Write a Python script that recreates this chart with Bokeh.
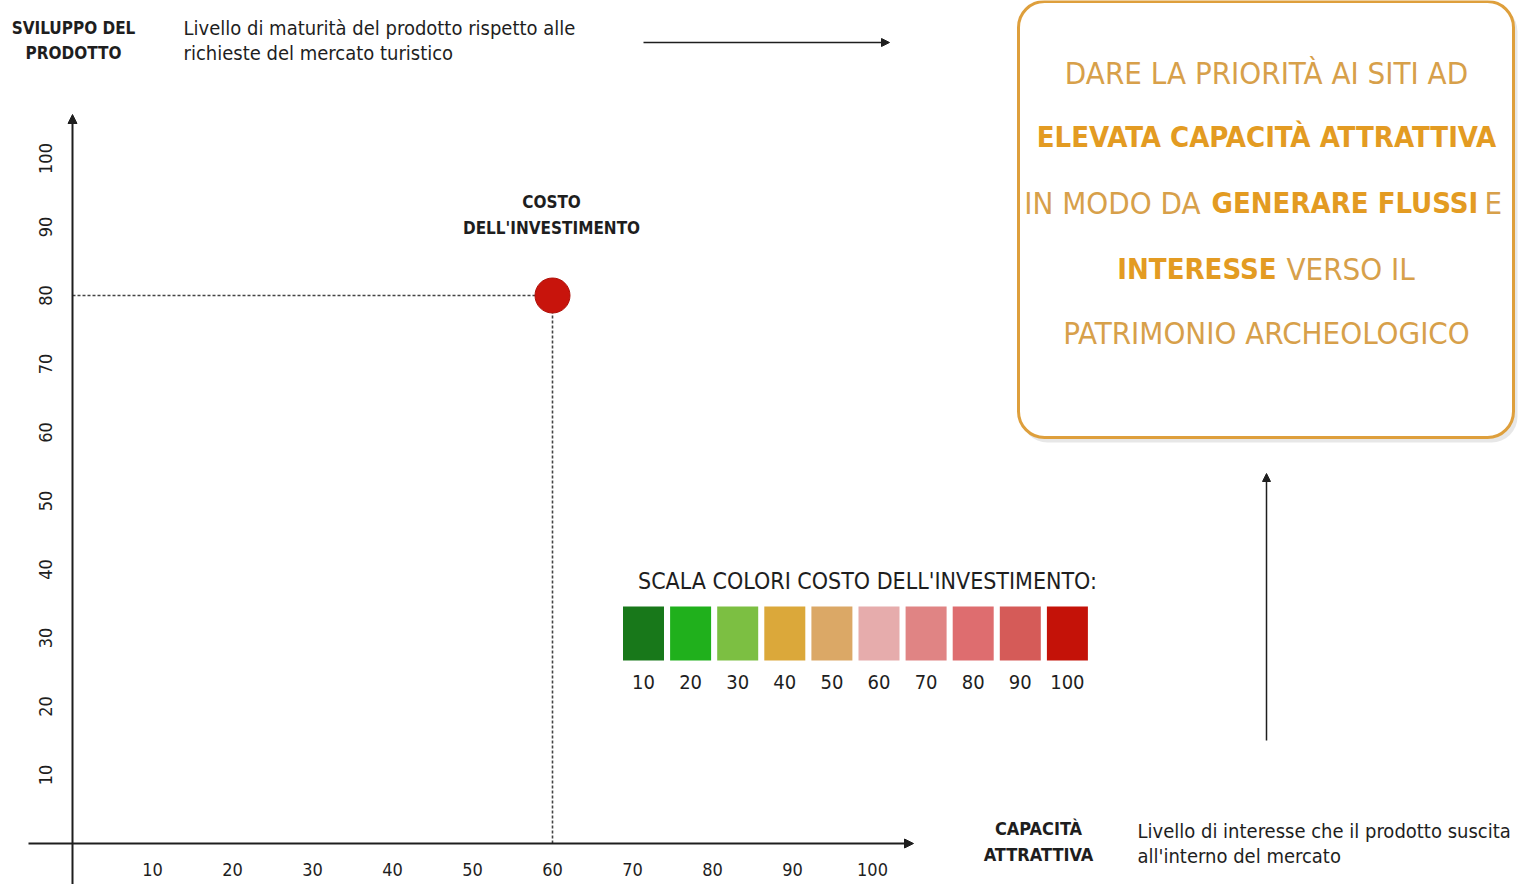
from bokeh.plotting import figure
from bokeh.models import Arrow, NormalHead, BoxAnnotation, Label, ColumnDataSource
from bokeh.core.properties import value
from bokeh.embed import file_html
from bokeh.resources import INLINE

# ---------------- data ----------------
x_ticks = [10, 20, 30, 40, 50, 60, 70, 80, 90, 100]
y_ticks = [10, 20, 30, 40, 50, 60, 70, 80, 90, 100]
point_x = [60]          # capacità attrattiva
point_y = [80]          # sviluppo del prodotto
point_color = ["#C8140C"]   # costo dell'investimento = 100
point_label = ["COSTO", "DELL'INVESTIMENTO"]
scale_values = [10, 20, 30, 40, 50, 60, 70, 80, 90, 100]
scale_colors = ["#18781A", "#20B01C", "#7CBF42", "#DBA83A", "#DBA866",
                "#E6ACAC", "#E08484", "#DE6D6F", "#D55B58", "#C41208"]
y_title = ["SVILUPPO DEL", "PRODOTTO"]
y_desc = ["Livello di maturità del prodotto rispetto alle", "richieste del mercato turistico"]
x_title = ["CAPACITÀ", "ATTRATTIVA"]
x_desc = ["Livello di interesse che il prodotto suscita", "all'interno del mercato"]
scale_title = "SCALA COLORI COSTO DELL'INVESTIMENTO:"

# ---------------- layout ----------------
W, H = 1520, 884
X0, SX = 72.0, 8.0     # page px of x=0, px per unit
Y0, SY = 843.0, 6.85   # page px of y=0, px per unit


def ax(px):
    return (px - X0) / SX


def ay(py):
    return (Y0 - py) / SY


FONT = "'DejaVu Sans Condensed', 'Liberation Sans Narrow', sans-serif"
DARK = "#1E1E1E"
BOX_REG = "#D7A04A"
BOX_BOLD = "#E39B22"

p = figure(width=W, height=H, x_range=(ax(0), ax(W)), y_range=(ay(H), ay(0)),
           output_backend="svg", toolbar_location=None, x_axis_type=None, y_axis_type=None,
           min_border=0, background_fill_color="white", border_fill_color="white")
p.outline_line_color = None


def lab(text, px, py, size, bold=False, color=DARK, align="center"):
    p.add_layout(Label(x=ax(px), y=ay(py), text=text, text_align=align, text_baseline="middle",
                       text_font=FONT, text_font_size=f"{size}px",
                       text_font_style="bold" if bold else "normal", text_color=color))


# ---- axes (arrows) ----
p.add_layout(Arrow(end=NormalHead(size=9, fill_color=DARK, line_color=DARK),
                   x_start=0, y_start=ay(884), x_end=0, y_end=ay(114),
                   line_width=2, line_color=DARK))
p.add_layout(Arrow(end=NormalHead(size=9, fill_color=DARK, line_color=DARK),
                   x_start=ax(28), y_start=0, x_end=ax(913), y_end=0,
                   line_width=2, line_color=DARK))

# tick labels
p.text(x=x_ticks, y=[ay(869)] * len(x_ticks), text=[str(t) for t in x_ticks],
       text_align="center", text_baseline="middle", text_font=value(FONT),
       text_font_size="18px", text_color=DARK)
p.text(x=[ax(45)] * len(y_ticks), y=y_ticks, text=[str(t) for t in y_ticks],
       angle=1.5708, text_align="center", text_baseline="middle", text_font=value(FONT),
       text_font_size="18px", text_color=DARK)

# ---- point with dotted guides ----
p.segment(x0=[0], y0=point_y, x1=point_x, y1=point_y, line_dash="3 2", line_width=1.6, line_color="#444444")
p.segment(x0=point_x, y0=point_y, x1=point_x, y1=[0], line_dash="3 2", line_width=1.6, line_color="#444444")
p.scatter(x=point_x, y=point_y, size=35, fill_color=point_color, line_color="#B01008", line_width=1)
lab(point_label[0], 551, 201, 17, bold=True)
lab(point_label[1], 551, 227, 17, bold=True)

# ---- header texts ----
lab(y_title[0], 73, 27, 17, bold=True)
lab(y_title[1], 73, 52, 17, bold=True)
lab(y_desc[0], 183, 27, 20, align="left")
lab(y_desc[1], 183, 52, 20, align="left")
p.add_layout(Arrow(end=NormalHead(size=8, fill_color=DARK, line_color=DARK),
                   x_start=ax(643), y_start=ay(42), x_end=ax(889), y_end=ay(42),
                   line_width=1.5, line_color=DARK))

# ---- bottom right texts ----
lab(x_title[0], 1038, 828, 18, bold=True)
lab(x_title[1], 1038, 854, 18, bold=True)
lab(x_desc[0], 1137, 830, 20, align="left")
lab(x_desc[1], 1137, 855, 20, align="left")
p.add_layout(Arrow(end=NormalHead(size=8, fill_color=DARK, line_color=DARK),
                   x_start=ax(1266), y_start=ay(740), x_end=ax(1266), y_end=ay(473),
                   line_width=1.5, line_color=DARK))

# ---- message box ----
p.add_layout(BoxAnnotation(left=ax(1021), right=ax(1517), top=ay(5), bottom=ay(442),
                           fill_color="#BBBBBB", fill_alpha=0.35, line_color=None,
                           border_radius=26, level="underlay"))
p.add_layout(BoxAnnotation(left=ax(1018), right=ax(1513), top=ay(1), bottom=ay(437),
                           fill_color="white", fill_alpha=1.0, line_color="#DE9F3C",
                           line_alpha=1.0, line_width=3, border_radius=26, level="underlay"))
RS, BS = 31, 29
lab("DARE LA PRIORITÀ AI SITI AD", 1266, 72, RS, color=BOX_REG)
lab("ELEVATA CAPACITÀ ATTRATTIVA", 1266, 136, BS, bold=True, color=BOX_BOLD)
lab("IN MODO DA", 1200, 202, RS, color=BOX_REG, align="right")
lab("GENERARE FLUSSI", 1211, 202, BS, bold=True, color=BOX_BOLD, align="left")
lab("E", 1484, 202, RS, color=BOX_REG, align="left")
lab("INTERESSE", 1276, 268, BS, bold=True, color=BOX_BOLD, align="right")
lab("VERSO IL", 1286, 268, RS, color=BOX_REG, align="left")
lab("PATRIMONIO ARCHEOLOGICO", 1266, 332, RS, color=BOX_REG)

# ---- colour scale ----
lab(scale_title, 867, 580, 23)
PITCH = 47.1 / SX
sx = [ax(643) + i * PITCH for i in range(len(scale_values))]
src = ColumnDataSource(dict(x=sx, y=[ay(633)] * len(sx), c=scale_colors,
                            t=[str(v) for v in scale_values], ly=[ay(681)] * len(sx)))
p.rect(x="x", y="y", width=41, height=54, width_units="screen", height_units="screen",
       fill_color="c", line_color=None, source=src)
p.text(x="x", y="ly", text="t", text_align="center", text_baseline="middle",
       text_font=value(FONT), text_font_size="20px", text_color=DARK, source=src)

open("out.html", "w").write(file_html(p, INLINE))
